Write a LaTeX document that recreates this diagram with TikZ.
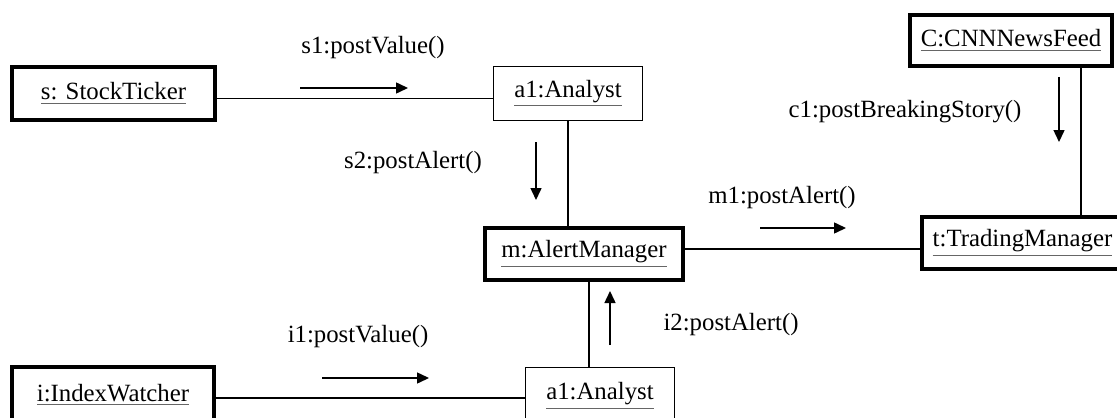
\documentclass[tikz,border=0pt]{standalone}
\usepackage{fontspec}
\setmainfont{Liberation Serif}
\usetikzlibrary{arrows.meta}
\newcommand\objname[1]{\textcolor{black!60}{\underline{\textcolor{black}{#1}}}}
\begin{document}
\begin{tikzpicture}[x=0.5pt,y=-0.5pt,
  every node/.style={font=\fontsize{12.4}{14}\selectfont, inner sep=0pt},
  active/.style={draw, rectangle, line width=2pt},
  passive/.style={draw, rectangle, line width=0.65pt},
  link/.style={line width=0.65pt},
  msg/.style={line width=0.75pt, -{Triangle[length=6pt,width=5.5pt]}},
  lbl/.style={}]
\useasboundingbox (0,0) rectangle (1117,417);
\clip (0,0) rectangle (1117,417);

% objects
\node[active, minimum width=101.5pt, minimum height=26.5pt] (s) at (113.5,93.5) {\objname{s: StockTicker}};
\node[passive, minimum width=74.35pt, minimum height=26.85pt] (a1t) at (568,93.5) {\objname{a1:Analyst}};
\node[active, minimum width=101pt, minimum height=25.5pt] (c) at (1011,40.5) {\objname{C:CNNNewsFeed}};
\node[active, minimum width=99pt, minimum height=26pt] (m) at (584,254) {\objname{m:AlertManager}};
\node[active, minimum width=100.5pt, minimum height=26pt] (t) at (1022.5,243) {\objname{t:TradingManager}};
\node[active, minimum width=101pt, minimum height=28pt] (i) at (113,395) {\objname{i:IndexWatcher}};
\node[passive, minimum width=74.35pt, minimum height=28.35pt] (a1b) at (600,396) {\objname{a1:Analyst}};

% link positions
\coordinate (ysa) at (0,98.5);
\coordinate (ymt) at (0,249);
\coordinate (yia) at (0,398);
\coordinate (xam) at (568,0);
\coordinate (xct) at (1081,0);
\coordinate (xma) at (589,0);

% links
\draw[link] (s.east |- ysa) -- (a1t.west |- ysa);
\draw[link] (a1t.south -| xam) -- (m.north -| xam);
\draw[link] (m.east |- ymt) -- (t.west |- ymt);
\draw[link] (c.south -| xct) -- (t.north -| xct);
\draw[link] (m.south -| xma) -- (a1b.north -| xma);
\draw[link] (i.east |- yia) -- (a1b.west |- yia);

% messages
\coordinate (s1a) at (300,88);   \coordinate (s1b) at (408,88);
\coordinate (s2a) at (536,142);  \coordinate (s2b) at (536,200);
\coordinate (c1a) at (1059,77);  \coordinate (c1b) at (1059,142);
\coordinate (m1a) at (760,228);  \coordinate (m1b) at (846,228);
\coordinate (i2a) at (610,345);  \coordinate (i2b) at (610,291);
\coordinate (i1a) at (322,378);  \coordinate (i1b) at (429,378);
\draw[msg] (s1a) -- (s1b);
\draw[msg] (s2a) -- (s2b);
\draw[msg] (c1a) -- (c1b);
\draw[msg] (m1a) -- (m1b);
\draw[msg] (i2a) -- (i2b);
\draw[msg] (i1a) -- (i1b);

\node[lbl] (s1) at (373,48) {s1:postValue()};
\node[lbl] (s2) at (413,163) {s2:postAlert()};
\node[lbl] (c1) at (905,112) {c1:postBreakingStory()};
\node[lbl] (m1) at (782,198) {m1:postAlert()};
\node[lbl] (i2) at (731,325) {i2:postAlert()};
\node[lbl] (i1) at (358,337) {i1:postValue()};
\end{tikzpicture}
\end{document}
